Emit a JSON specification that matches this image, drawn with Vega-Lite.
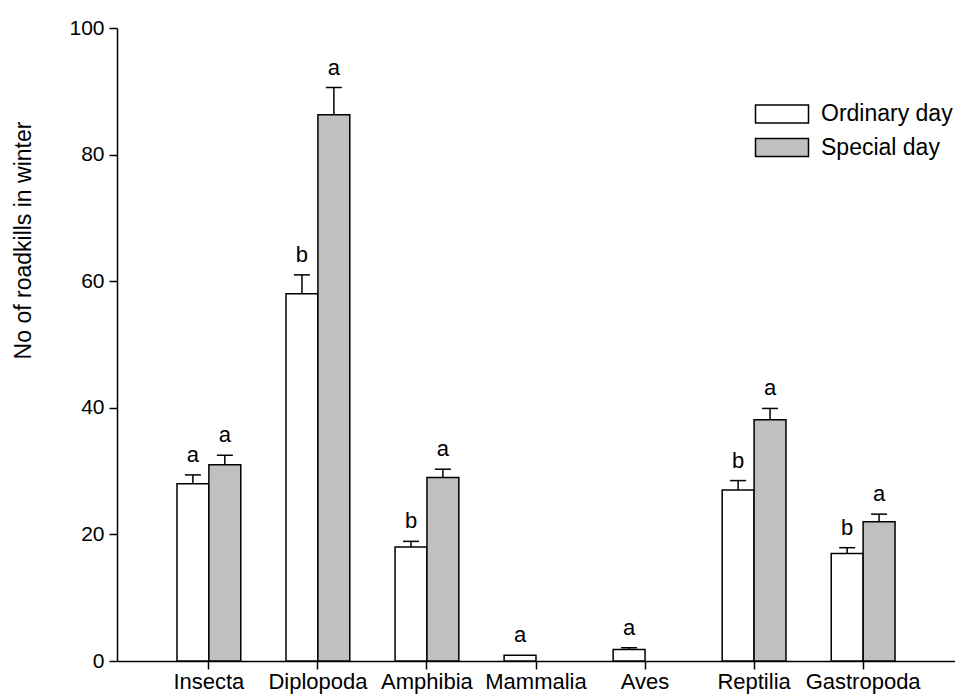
{
  "$schema": "https://vega.github.io/schema/vega-lite/v6.json",
  "width": 838,
  "height": 633,
  "autosize": {"type": "none"},
  "padding": {"left": 117, "top": 28, "right": 0, "bottom": 39},
  "config": {
    "view": {"stroke": null},
    "font": "Liberation Sans",
    "axis": {
      "domainColor": "black", "domainWidth": 1.5, "tickColor": "black", "tickWidth": 1.5,
      "labelColor": "black", "titleColor": "black", "grid": false, "labelFont": "Liberation Sans", "titleFont": "Liberation Sans"
    },
    "legend": {"labelFont": "Liberation Sans", "labelColor": "black"}
  },
  "data": {
    "values": [
      {"taxon": "Insecta", "day": "Ordinary day", "mean": 28, "upper": 29.4, "sig": "a"},
      {"taxon": "Insecta", "day": "Special day", "mean": 31, "upper": 32.5, "sig": "a"},
      {"taxon": "Diplopoda", "day": "Ordinary day", "mean": 58, "upper": 61, "sig": "b"},
      {"taxon": "Diplopoda", "day": "Special day", "mean": 86.3, "upper": 90.6, "sig": "a"},
      {"taxon": "Amphibia", "day": "Ordinary day", "mean": 18, "upper": 18.9, "sig": "b"},
      {"taxon": "Amphibia", "day": "Special day", "mean": 29, "upper": 30.3, "sig": "a"},
      {"taxon": "Mammalia", "day": "Ordinary day", "mean": 0.9, "upper": 0.9, "sig": "a"},
      {"taxon": "Mammalia", "day": "Special day", "mean": 0, "upper": 0, "sig": ""},
      {"taxon": "Aves", "day": "Ordinary day", "mean": 1.8, "upper": 2.1, "sig": "a"},
      {"taxon": "Aves", "day": "Special day", "mean": 0, "upper": 0, "sig": ""},
      {"taxon": "Reptilia", "day": "Ordinary day", "mean": 27, "upper": 28.5, "sig": "b"},
      {"taxon": "Reptilia", "day": "Special day", "mean": 38.1, "upper": 39.9, "sig": "a"},
      {"taxon": "Gastropoda", "day": "Ordinary day", "mean": 17, "upper": 17.9, "sig": "b"},
      {"taxon": "Gastropoda", "day": "Special day", "mean": 22, "upper": 23.2, "sig": "a"}
    ]
  },
  "encoding": {
    "x": {
      "field": "taxon", "type": "nominal",
      "sort": ["Insecta", "Diplopoda", "Amphibia", "Mammalia", "Aves", "Reptilia", "Gastropoda"],
      "scale": {"paddingInner": 0.415, "paddingOuter": 0.55},
      "axis": {"title": null, "labelAngle": 0, "tickSize": 8, "labelFontSize": 22, "labelPadding": 2}
    },
    "xOffset": {
      "field": "day", "type": "nominal", "sort": ["Ordinary day", "Special day"],
      "scale": {"paddingInner": 0, "paddingOuter": 0}
    }
  },
  "layer": [
    {
      "transform": [{"filter": "datum.mean > 0"}],
      "mark": {"type": "bar", "stroke": "black", "strokeWidth": 1.5},
      "encoding": {
        "y": {
          "field": "mean", "type": "quantitative",
          "scale": {"domain": [0, 100], "nice": false},
          "axis": {
            "title": "No of roadkills in winter", "titleFontSize": 23, "titleFontWeight": "normal",
            "values": [0, 20, 40, 60, 80, 100], "tickSize": 8, "labelFontSize": 21, "labelPadding": 5,
            "titleX": -94, "titleY": 212, "titleAngle": -90, "titleAlign": "center", "titleBaseline": "middle"
          }
        },
        "fill": {
          "field": "day", "type": "nominal",
          "scale": {"domain": ["Ordinary day", "Special day"], "range": ["white", "#c0c0c0"]},
          "legend": {
            "title": null, "orient": "none", "legendX": 651, "legendY": 72, "padding": 0,
            "symbolType": "M-2,-0.68H2V0.68H-2Z", "symbolSize": 702,
            "symbolStrokeColor": "black", "symbolStrokeWidth": 1.5, "symbolOpacity": 1,
            "labelFontSize": 23, "labelOffset": 25, "rowPadding": 6.5
          }
        }
      }
    },
    {
      "transform": [{"filter": "datum.upper > datum.mean"}],
      "mark": {"type": "rule", "color": "black", "strokeWidth": 1.5},
      "encoding": {
        "y": {"field": "mean", "type": "quantitative"},
        "y2": {"field": "upper"}
      }
    },
    {
      "transform": [{"filter": "datum.upper > datum.mean"}],
      "mark": {"type": "tick", "color": "black", "thickness": 1.5, "size": 16, "opacity": 1},
      "encoding": {
        "y": {"field": "upper", "type": "quantitative"}
      }
    },
    {
      "transform": [{"filter": "datum.sig != ''"}],
      "mark": {"type": "text", "dy": -13, "fontSize": 22, "baseline": "alphabetic", "color": "black"},
      "encoding": {
        "y": {"field": "upper", "type": "quantitative"},
        "text": {"field": "sig"}
      }
    }
  ]
}
